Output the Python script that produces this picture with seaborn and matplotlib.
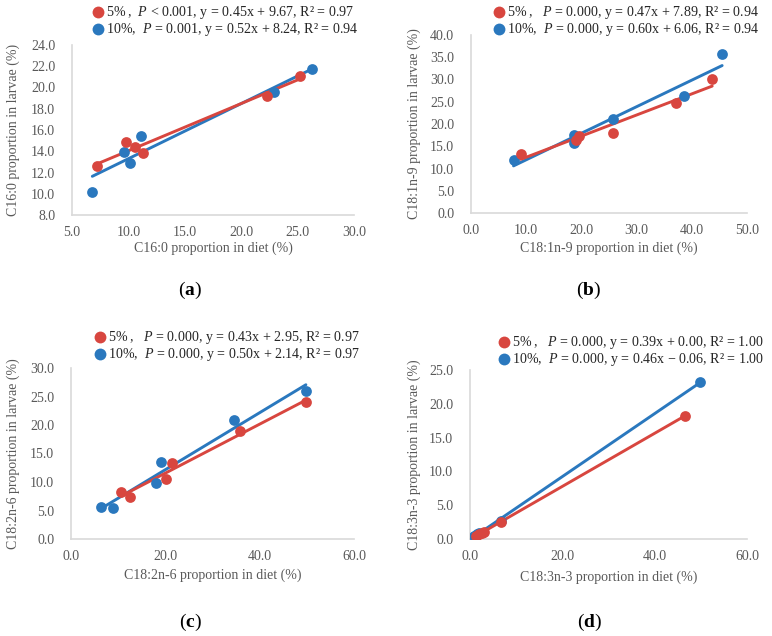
import matplotlib
matplotlib.use('Agg')
import matplotlib.pyplot as plt
import seaborn as sns
from matplotlib.ticker import MultipleLocator, FormatStrFormatter

# (a) C16:0
c16_diet_5 = [7.2, 9.8, 10.6, 11.3, 22.3, 25.2]
c16_larvae_5 = [12.6, 14.9, 14.4, 13.8, 19.2, 21.1]
c16_diet_10 = [6.8, 9.6, 10.1, 11.1, 22.9, 26.3]
c16_larvae_10 = [10.2, 13.9, 12.9, 15.4, 19.6, 21.7]

# (b) C18:1n-9
c181_diet_5 = [9.0, 19.1, 19.5, 25.7, 37.2, 43.7]
c181_larvae_5 = [13.3, 16.4, 17.4, 18.0, 24.7, 30.1]
c181_diet_10 = [7.7, 18.7, 18.7, 25.7, 38.5, 45.5]
c181_larvae_10 = [11.9, 17.5, 15.8, 21.1, 26.3, 35.7]

# (c) C18:2n-6
c182_diet_5 = [10.6, 12.5, 20.1, 21.4, 35.8, 49.8]
c182_larvae_5 = [8.2, 7.4, 10.5, 13.3, 18.9, 24.0]
c182_diet_10 = [6.4, 8.9, 18.0, 19.1, 34.5, 49.8]
c182_larvae_10 = [5.6, 5.5, 9.8, 13.5, 20.9, 26.0]

# (d) C18:3n-3
c183_diet_5 = [1.2, 2.0, 2.6, 3.0, 6.7, 46.5]
c183_larvae_5 = [0.5, 0.7, 0.9, 1.1, 2.5, 18.2]
c183_diet_10 = [0.9, 1.1, 1.5, 2.0, 6.7, 49.9]
c183_larvae_10 = [0.4, 0.5, 0.7, 0.9, 2.7, 23.2]

labels_5 = ["5%\u2009,  $\\it{P}$ < 0.001, y = 0.45x + 9.67, R\u00b2 = 0.97",
            "5%\u2009,   $\\it{P}$ = 0.000, y = 0.47x + 7.89, R\u00b2 = 0.94",
            "5%\u2009,   $\\it{P}$ = 0.000, y = 0.43x + 2.95, R\u00b2 = 0.97",
            "5%\u2009,   $\\it{P}$ = 0.000, y = 0.39x + 0.00, R\u00b2 = 1.00"]
labels_10 = ["10%,  $\\it{P}$ = 0.001, y = 0.52x + 8.24, R\u00b2 = 0.94",
             "10%,  $\\it{P}$ = 0.000, y = 0.60x + 6.06, R\u00b2 = 0.94",
             "10%,  $\\it{P}$ = 0.000, y = 0.50x + 2.14, R\u00b2 = 0.97",
             "10%,  $\\it{P}$ = 0.000, y = 0.46x \u2212 0.06, R\u00b2 = 1.00"]
fatty_acids = ["C16:0", "C18:1n-9", "C18:2n-6", "C18:3n-3"]
panel_tags = ["a", "b", "c", "d"]

sns.set_style('white')
plt.rcParams['font.family'] = ['Liberation Serif', 'DejaVu Serif']
plt.rcParams['mathtext.fontset'] = 'custom'
plt.rcParams['mathtext.rm'] = 'Liberation Serif'
plt.rcParams['mathtext.it'] = 'Liberation Serif:italic'
plt.rcParams['mathtext.bf'] = 'Liberation Serif:bold'

red = '#D8463F'
blue = '#2A78BE'
grey_txt = '#595959'

W, H = 772, 636
fig = plt.figure(figsize=(W / 100, H / 100), dpi=100)

# left, top, right, bottom in pixels
boxes = [(72, 45, 354, 215), (471, 35, 747, 213), (71, 368, 354, 539), (470, 370, 747, 539)]
xlims = [(5, 30, 5), (0, 50, 10), (0, 60, 20), (0, 60, 20)]
ylims = [(8, 24, 2), (0, 40, 5), (0, 30, 5), (0, 25, 5)]
legend_pos = [(92, 38), (493, 38), (94, 363), (498, 368)]
tag_pos = [(190, 290), (589, 290), (190, 622), (590, 622)]
xlab_gap = [27, 29, 30, 32]

data = [(c16_diet_5, c16_larvae_5, c16_diet_10, c16_larvae_10),
        (c181_diet_5, c181_larvae_5, c181_diet_10, c181_larvae_10),
        (c182_diet_5, c182_larvae_5, c182_diet_10, c182_larvae_10),
        (c183_diet_5, c183_larvae_5, c183_diet_10, c183_larvae_10)]

for i in range(4):
    l, t, r, b = boxes[i]
    ax = fig.add_axes([l / W, 1 - b / H, (r - l) / W, (b - t) / H])
    x5, y5, x10, y10 = data[i]
    sns.regplot(x=x10, y=y10, ax=ax, ci=None, color=blue, label=labels_10[i],
                scatter_kws={'s': 60, 'alpha': 1, 'linewidths': 0, 'zorder': 3},
                line_kws={'lw': 2.1})
    sns.regplot(x=x5, y=y5, ax=ax, ci=None, color=red, label=labels_5[i],
                scatter_kws={'s': 60, 'alpha': 1, 'linewidths': 0, 'zorder': 3},
                line_kws={'lw': 2.1})
    ax.set_xlim(xlims[i][0], xlims[i][1])
    ax.set_ylim(ylims[i][0], ylims[i][1])
    ax.xaxis.set_major_locator(MultipleLocator(xlims[i][2]))
    ax.yaxis.set_major_locator(MultipleLocator(ylims[i][2]))
    ax.xaxis.set_major_formatter(FormatStrFormatter('%.1f'))
    ax.yaxis.set_major_formatter(FormatStrFormatter('%.1f'))
    ax.tick_params(axis='both', length=0, labelsize=10, colors=grey_txt)
    ax.tick_params(axis='y', pad=12)
    ax.tick_params(axis='x', pad=8)
    sns.despine(ax=ax)
    for s in ['left', 'bottom']:
        ax.spines[s].set_color('#D9D9D9')
        ax.spines[s].set_linewidth(1.2)
    ax.set_xlabel(fatty_acids[i] + " proportion in diet (%)", fontsize=10, color=grey_txt)
    ax.set_ylabel(fatty_acids[i] + " proportion in larvae (%)", fontsize=10, color=grey_txt)
    ax.xaxis.set_label_coords(0.5, -xlab_gap[i] / (b - t))
    ax.yaxis.set_label_coords(-(l - 20) / (r - l) if i % 2 == 0 else -(l - 421) / (r - l), 0.5)

    handles, labs = ax.get_legend_handles_labels()
    order = [labs.index(labels_5[i]), labs.index(labels_10[i])]
    lx, ly = legend_pos[i]
    ax.legend([handles[k] for k in order], [labs[k] for k in order],
              loc='lower left', bbox_to_anchor=(lx / W, 1 - ly / H),
              bbox_transform=fig.transFigure, frameon=False, fontsize=10.1,
              handlelength=0.8, handletextpad=0.2, borderpad=0, borderaxespad=0,
              labelspacing=0.0, markerscale=1.1)

    tx, ty = tag_pos[i]
    fig.text(tx / W, 1 - ty / H, "($\\mathbf{" + panel_tags[i] + "}$)",
             ha='center', va='center', fontsize=14, color='black')

fig.savefig('out.png', dpi=100)
